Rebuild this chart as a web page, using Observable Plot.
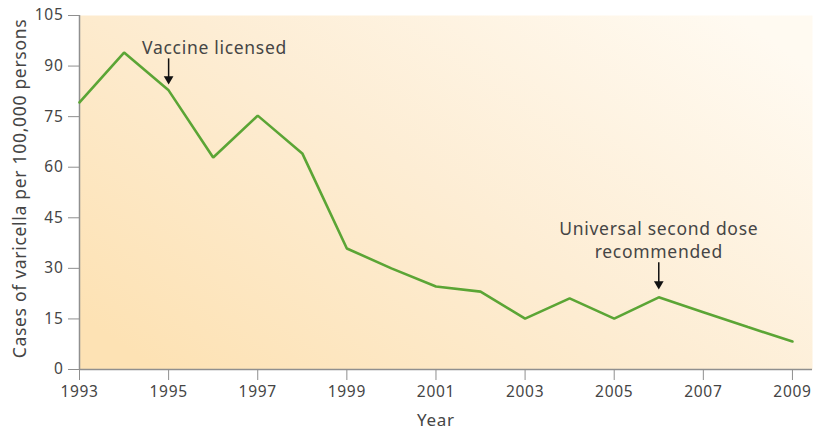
<!DOCTYPE html>
<html>
<head>
<meta charset="utf-8">
<script src="https://cdn.jsdelivr.net/npm/d3@7"></script>
<script src="https://cdn.jsdelivr.net/npm/@observablehq/plot@0.6"></script>
<style>
  body { margin: 0; background: #fff; }
</style>
</head>
<body>
<div id="chart"></div>
<script>
const years = [1993, 1994, 1995, 1996, 1997, 1998, 1999, 2000, 2001, 2002, 2003, 2004, 2005, 2006, 2007, 2008, 2009];
const cases = [79.2, 94.0, 82.8, 62.9, 75.3, 64.1, 35.9, 30.0, 24.6, 23.1, 15.1, 21.1, 15.1, 21.4, 17.0, 12.6, 8.3];
const yTicks = [0, 15, 30, 45, 60, 75, 90, 105];
const xTicks = [1993, 1995, 1997, 1999, 2001, 2003, 2005, 2007, 2009];
const yLabel = "Cases of varicella per 100,000 persons";
const xLabel = "Year";
const annotationText = ["Vaccine licensed", "Universal second dose\nrecommended"];
const annotationYear = [1995, 2006];
const annotationTextX = [1996.03, 2006];
const annotationTextY = [93.7, 33.2];
const arrowTop = [91.4, 30.9];
const arrowTip = [84.5, 23.7];

const data = years.map((y, i) => ({year: y, value: cases[i]}));
const notes = annotationText.map((t, i) => ({
  text: t, year: annotationYear[i], tx: annotationTextX[i], ty: annotationTextY[i],
  top: arrowTop[i], tip: arrowTip[i]
}));

const axisColor = "#8f8f8f";
const textColor = "#454545";

const chart = Plot.plot({
  width: 815,
  height: 435,
  marginLeft: 79,
  marginRight: 3,
  marginTop: 15,
  marginBottom: 66,
  style: {fontFamily: "'Noto Sans', sans-serif", fontSize: "15.5px", color: textColor, background: "white", overflow: "visible", letterSpacing: "0.7px"},
  x: {domain: [1993, 2009.45]},
  y: {domain: [0, 105]},
  marks: [
    Plot.frame({fill: "url(#bgGrad)", stroke: null}),
    Plot.axisY({ticks: yTicks, tickSize: 11, tickPadding: 5, stroke: axisColor, fill: textColor, fontSize: 15.5, label: null}),
    Plot.axisX({ticks: xTicks, tickFormat: d => String(d), tickSize: 11, tickPadding: 5, stroke: axisColor, fill: textColor, fontSize: 15.5, label: null}),
    Plot.ruleX([1993], {stroke: axisColor, strokeWidth: 1.5}),
    Plot.ruleY([0], {stroke: axisColor, strokeWidth: 1.5}),
    Plot.text([yLabel], {frameAnchor: "left", rotate: -90, dx: -59, dy: -4, textAnchor: "middle", lineAnchor: "middle", fill: textColor, fontSize: 17.5}),
    Plot.text([xLabel], {frameAnchor: "bottom", x: 2001, dy: 56, fill: textColor, fontSize: 17}),
    Plot.line(data, {x: "year", y: "value", stroke: "#5ba535", strokeWidth: 2.6, strokeLinejoin: "miter"}),
    Plot.link(notes, {x1: "year", x2: "year", y1: "top", y2: "tip", stroke: "#111", strokeWidth: 1.5, dy: -3}),
    Plot.dot(notes, {x: "year", y: "tip", symbol: "triangle", rotate: 180, r: 3.6, fill: "#111", stroke: null, dy: -5.6}),
    Plot.text(notes, {x: "tx", y: "ty", text: "text", fill: textColor, fontSize: 17.5, lineAnchor: "bottom", lineHeight: 1.27})
  ]
});

const ns = "http://www.w3.org/2000/svg";
const defs = document.createElementNS(ns, "defs");
defs.innerHTML = `<linearGradient id="bgGrad" x1="0" y1="0.85" x2="1" y2="0.15">
  <stop offset="0" stop-color="#fde2b4"/>
  <stop offset="0.5" stop-color="#fdedd4"/>
  <stop offset="1" stop-color="#fffaf1"/>
</linearGradient>`;
chart.insertBefore(defs, chart.firstChild);
document.getElementById("chart").appendChild(chart);
</script>
</body>
</html>
